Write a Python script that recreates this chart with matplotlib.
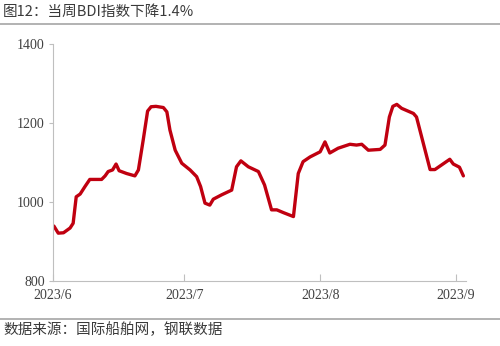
import numpy as np
import pandas as pd
import matplotlib
matplotlib.use("Agg")
import matplotlib.pyplot as plt
from matplotlib.lines import Line2D

# days counted from 2023-06-01, BDI value
days = [0.2, 1.2, 2.4, 3.9, 4.6, 5.3, 6.2, 7.3, 8.4, 11.1, 11.9, 12.6, 13.6, 14.4,
        15.1, 16.8, 18.7, 19.5, 20.6, 21.6, 22.4, 23.5, 25.2, 26.0, 26.7, 27.9, 29.4,
        31.3, 32.8, 33.7, 34.7, 35.8, 36.6, 38.5, 40.8, 41.9, 42.9, 44.6, 46.9,
        47.6, 48.3, 49.9, 51.1, 52.6, 54.9, 56.0, 57.1, 58.7, 61.0, 62.1, 63.2,
        65.1, 67.8, 69.3, 70.5, 72.0, 74.7, 75.8, 76.8, 77.6, 78.5, 79.6, 82.3,
        83.0, 86.1, 87.2, 90.6, 91.4, 92.8, 93.7]
bdi = [939, 921, 922, 934, 946, 1013, 1020, 1039, 1057, 1057, 1066, 1077, 1081, 1096,
       1079, 1072, 1066, 1081, 1157, 1230, 1241, 1242, 1239, 1228, 1182, 1131, 1098,
       1081, 1064, 1039, 997, 992, 1007, 1018, 1030, 1089, 1104, 1089, 1077,
       1060, 1043, 980, 980, 973, 963, 1072, 1102, 1114, 1127, 1152, 1124,
       1136, 1146, 1144, 1146, 1131, 1133, 1144, 1215, 1242, 1247, 1237, 1224,
       1215, 1082, 1082, 1108, 1096, 1088, 1066]

tick_dates = ["2023-06-01", "2023-07-01", "2023-08-01", "2023-09-01"]
tick_labels = ["2023/6", "2023/7", "2023/8", "2023/9"]
y_ticks = [800, 1000, 1200, 1400]

title = "图12：当周BDI指数下降1.4%"
source = "数据来源：国际船舶网，钢联数据"

start = pd.Timestamp("2023-06-01")
x = [start + pd.Timedelta(days=d) for d in days]
xt = [pd.Timestamp(t) for t in tick_dates]

fig = plt.figure(figsize=(5, 3.46), dpi=100)
ax = fig.add_axes([0.106, 0.188, 0.826, 0.685])

ax.plot(x, bdi, color="#C00010", lw=2.4, solid_joinstyle="round", solid_capstyle="round")

ax.set_ylim(800, 1400)
ax.set_xlim(start, start + pd.Timedelta(days=94.3))
ax.set_yticks(y_ticks)
ax.set_xticks(xt)
ax.set_xticklabels(tick_labels)

for s in ["top", "right"]:
    ax.spines[s].set_visible(False)
for s in ["left", "bottom"]:
    ax.spines[s].set_color("#BFBFBF")
    ax.spines[s].set_linewidth(0.8)

ax.tick_params(axis="y", direction="out", length=3, color="#BFBFBF",
               labelsize=10, labelcolor="#404040", pad=3)
ax.tick_params(axis="x", direction="in", length=5, color="#BFBFBF",
               labelsize=10, labelcolor="#404040", pad=6)
for lab in ax.get_xticklabels() + ax.get_yticklabels():
    lab.set_fontfamily("Liberation Serif")

cjk = ["Noto Sans CJK SC", "DejaVu Sans"]
fig.text(0.006, 0.965, title, family=cjk, fontsize=10.5, color="#3A3A3A", va="center")
fig.add_artist(Line2D([0, 1], [0.931, 0.931], transform=fig.transFigure, color="#A6A6A6", lw=1.2))
fig.add_artist(Line2D([0, 1], [0.078, 0.078], transform=fig.transFigure, color="#A6A6A6", lw=1.2))
fig.text(0.006, 0.046, source, family=cjk, fontsize=10.5, color="#3A3A3A", va="center")

fig.savefig("out.png", dpi=100)
